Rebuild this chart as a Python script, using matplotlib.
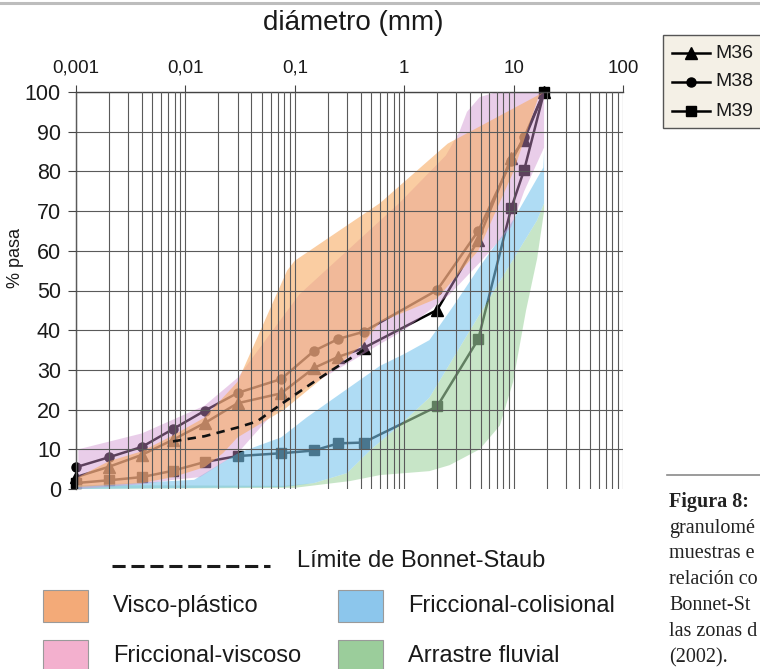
import numpy as np
import matplotlib
matplotlib.use('Agg')
import matplotlib.pyplot as plt
from matplotlib.lines import Line2D
from matplotlib.patches import Rectangle
from matplotlib.ticker import FixedLocator, FixedFormatter, LogLocator, NullFormatter

plt.rcParams['font.family'] = ['Liberation Sans', 'DejaVu Sans']

W, H = 760, 669

# diametros de tamiz / hidrometro (mm)
diam = [0.001, 0.002, 0.004, 0.0077, 0.015, 0.03, 0.075, 0.15, 0.25, 0.425, 2, 4.75, 9.5, 12.5, 19]
m36 = [3.0, 5.6, 8.6, 12.4, 16.6, 21.6, 24.1, 30.5, 33.3, 35.5, 45.1, 62.7, 83.4, 88.0, 100]
m38 = [5.5, 8.0, 10.6, 15.1, 19.7, 24.2, 27.7, 34.8, 37.8, 39.6, 50.1, 65.0, 82.5, 88.6, 100]
m39 = [1.5, 2.2, 3.0, 4.6, 6.8, 8.3, 9.0, 9.7, 11.5, 11.7, 20.8, 37.7, 70.7, 80.4, 100]

# limite de Bonnet-Staub
bs_d = [0.0077, 0.015, 0.03, 0.045, 0.078, 0.15, 0.22, 0.425]
bs_v = [12.0, 13.3, 15.5, 17.0, 21.7, 27.0, 30.0, 35.0]

# zonas (borde superior y borde inferior)
visco_up_d = [0.00105, 0.002, 0.004, 0.0077, 0.015, 0.03, 0.085, 0.1, 0.6, 2.5, 19]
visco_up_v = [3, 7, 9.5, 13.5, 18, 27, 55, 57.5, 72, 87, 100]
visco_lo_d = [0.00105, 0.004, 0.0077, 0.015, 0.022, 0.03, 0.08, 0.2, 0.42, 0.6, 2, 4.75, 10, 17, 19]
visco_lo_v = [0.5, 1.5, 3, 5.5, 9, 13, 20, 29, 36.5, 42, 48, 60, 80, 99, 100]

fv_up_d = [0.00105, 0.004, 0.015, 0.03, 0.11, 0.9, 2.4, 3.2, 3.75, 4.9, 7, 19]
fv_up_v = [10, 14, 21, 28, 49, 72, 84, 90, 95, 98.7, 100, 100]
fv_lo_d = [0.00105, 0.004, 0.0077, 0.0136, 0.03, 0.063, 0.13, 0.37, 0.6, 1, 2, 2.6, 4.9, 9.5, 12.5, 19]
fv_lo_v = [0, 1.2, 2.3, 3, 9, 19, 25.7, 33, 36.5, 40, 46.5, 49, 57, 66, 75, 86]

fc_up_d = [0.00105, 0.012, 0.03, 0.075, 0.128, 0.6, 1.0, 1.7, 2.8, 4.9, 9.9, 18.7, 19]
fc_up_v = [0.8, 2.3, 9, 13, 18, 31, 34, 37.5, 46, 56, 67.7, 81, 85]
fc_lo_d = [0.00105, 0.08, 0.15, 0.3, 0.5, 0.86, 1.7, 4.9, 16.4, 19]
fc_lo_v = [0, 0.5, 1.5, 4, 10, 15.5, 23, 44, 67.7, 72]

af_up_d = fc_lo_d
af_up_v = [1, 0.8, 1.5, 4, 10, 15.5, 23, 44, 67.7, 72]
af_lo_d = [0.00105, 0.1, 0.32, 0.6, 1.7, 2.6, 4.9, 7.5, 9.9, 13, 16.4, 19]
af_lo_v = [0, 0.3, 2, 3.5, 4.5, 6, 10, 16, 27, 45, 58, 70]

x_ticks = [0.001, 0.01, 0.1, 1, 10, 100]
x_labels = ['0,001', '0,01', '0,1', '1', '10', '100']
y_ticks = [0, 10, 20, 30, 40, 50, 60, 70, 80, 90, 100]

zones = [
    ('Arrastre fluvial', af_up_d, af_up_v, af_lo_d, af_lo_v, '#a3d5a3', '#9bcd9b', 0.6),
    ('Friccional-colisional', fc_up_d, fc_up_v, fc_lo_d, fc_lo_v, '#7ac6ee', '#8cc6ec', 0.6),
    ('Friccional-viscoso', fv_up_d, fv_up_v, fv_lo_d, fv_lo_v, '#cf92cf', '#f3b0ce', 0.45),
    ('Visco-plástico', visco_up_d, visco_up_v, visco_lo_d, visco_lo_v, '#f7ac64', '#f3aa78', 0.6),
]


def fx(px):
    return px / W


def fy(py):
    return 1 - py / H


fig = plt.figure(figsize=(W / 100, H / 100), dpi=100)
ax = fig.add_axes([fx(76), fy(489), (623 - 76) / W, (489 - 92) / H])
ax.set_xscale('log')
ax.set_xlim(0.001, 100)
ax.set_ylim(0, 100)

# curvas (debajo de las zonas)
series = [('M36', m36, '^', 8.5), ('M38', m38, 'o', 6.5), ('M39', m39, 's', 6.5)]
for name, vals, mk, ms in series:
    ax.plot(diam, vals, color='k', lw=1.8, marker=mk, ms=ms, zorder=0.8, clip_on=False)

for i, (name, ud, uv, ld, lv, col, _, a) in enumerate(zones):
    xs = list(ud) + list(ld)[::-1]
    ys = list(uv) + list(lv)[::-1]
    ax.fill(xs, ys, color=col, alpha=a, lw=0, zorder=1 + i * 0.1)

ax.plot(bs_d, bs_v, color='#111111', lw=1.9, ls=(0, (3.2, 2.4)), zorder=3)

# rejilla
ax.set_axisbelow(False)
ax.xaxis.set_major_locator(FixedLocator(x_ticks))
ax.xaxis.set_major_formatter(FixedFormatter(x_labels))
ax.xaxis.set_minor_locator(LogLocator(base=10, subs=range(2, 10)))
ax.xaxis.set_minor_formatter(NullFormatter())
ax.grid(True, which='both', axis='x', color='#5a5a5a', lw=0.8)
for v in y_ticks[1:]:
    ax.axhline(v, color='#5a5a5a', lw=0.8, zorder=2.5)
ax.set_yticks(y_ticks)

ax.xaxis.tick_top()
ax.tick_params(axis='x', which='major', length=5, width=0.8, color='#444444',
               labelsize=13.5, pad=6, labelcolor='#1a1a1a')
ax.tick_params(axis='x', which='minor', length=0)
ax.tick_params(axis='y', length=5.8, width=0.8, color='#444444',
               labelsize=15.5, pad=5, labelcolor='#1a1a1a')
for s in ['bottom', 'right']:
    ax.spines[s].set_visible(False)
for s in ['top', 'left']:
    ax.spines[s].set_color('#444444')
    ax.spines[s].set_linewidth(1.0)

fig.text(fx(353), fy(23), 'diámetro (mm)', ha='center', va='center', fontsize=20, color='#1a1a1a')
fig.text(fx(16), fy(258), '% pasa', rotation=90, ha='center', va='center', fontsize=13, color='#1a1a1a')

# linea gris superior
fig.add_artist(Line2D([0, 1], [fy(3), fy(3)], color='#bdbdbd', lw=2.2, transform=fig.transFigure))

# leyenda de muestras (recortada por el borde derecho)
fig.add_artist(Rectangle((fx(663), fy(128)), 120 / W, 93 / H, facecolor='#f4f0e6',
                         edgecolor='#555555', lw=1.0, transform=fig.transFigure))
for k, (name, _, mk, ms) in enumerate(series):
    yy = fy(53 + 29 * k)
    fig.add_artist(Line2D([fx(672), fx(710)], [yy, yy], color='k', lw=1.8,
                          transform=fig.transFigure))
    fig.add_artist(Line2D([fx(691)], [yy], color='k', marker=mk, ms=ms, lw=0,
                          transform=fig.transFigure))
    fig.text(fx(715), yy, name, ha='left', va='center', fontsize=14, color='#1a1a1a')

# leyenda de zonas
fig.add_artist(Line2D([fx(112), fx(270)], [fy(566), fy(566)], color='#1a1a1a', lw=2.2,
                      ls=(0, (4.3, 1.9)), transform=fig.transFigure))
fig.text(fx(297), fy(561), 'Límite de Bonnet-Staub', ha='left', va='center', fontsize=17, color='#1a1a1a')
zone_pos = {'Visco-plástico': (43, 590), 'Friccional-colisional': (338, 590),
            'Friccional-viscoso': (43, 640), 'Arrastre fluvial': (338, 640)}
for name, _, _, _, _, _, lcol, _ in zones:
    px, py = zone_pos[name]
    fig.add_artist(Rectangle((fx(px), fy(py + 32)), 45 / W, 32 / H, facecolor=lcol,
                             edgecolor='#9a9a9a', lw=0.8, transform=fig.transFigure))
    fig.text(fx(px + 70), fy(py + 16), name, ha='left', va='center', fontsize=17, color='#1a1a1a')

# pie de figura (recortado)
fig.add_artist(Line2D([fx(667), 1], [fy(475), fy(475)], color='#8a8a8a', lw=1.2, transform=fig.transFigure))
caption = ['Figura 8:', 'granulomé', 'muestras e', 'relación co', 'Bonnet-St', 'las zonas d', '(2002).']
for i, line in enumerate(caption):
    fig.text(fx(669), fy(502 + i * 26), line, ha='left', va='center', fontsize=14.5,
             family=['Liberation Serif', 'DejaVu Serif'], color='#222222',
             fontweight='bold' if i == 0 else 'normal')

fig.savefig('out.png', dpi=100)
